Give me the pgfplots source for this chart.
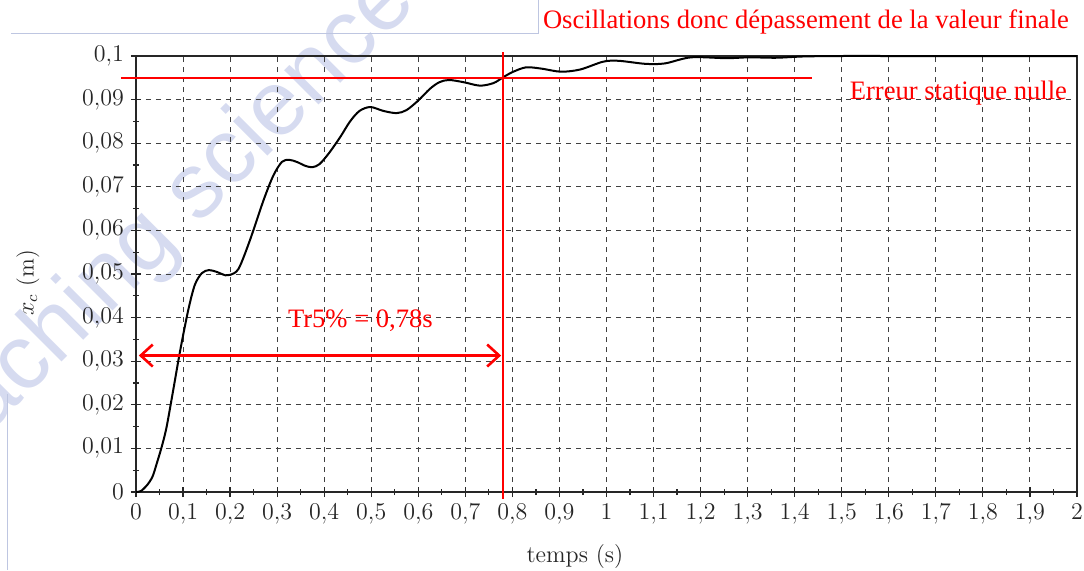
\documentclass[border=0pt]{standalone}
\usepackage{fontspec}
\usepackage{pgfplots}
\pgfplotsset{compat=1.18}
\usetikzlibrary{arrows.meta}
\newfontfamily\timesfont{Liberation Serif}
\newfontfamily\wmfont{Liberation Sans}
\definecolor{wm}{RGB}{214,219,240}
\definecolor{framec}{RGB}{190,198,225}
\begin{document}
\begin{tikzpicture}
\useasboundingbox (0,0) rectangle (542pt,285pt);
% watermark
\node[rotate=45, text=wm, font=\wmfont\fontsize{46}{50}\selectfont] at (80pt,170pt) {teaching science};
% frame artefacts
\draw[framec, line width=0.5pt] (5.5pt,268.5pt) -- (269pt,268.5pt) -- (269pt,285pt);
\draw[framec, line width=0.5pt] (3.5pt,88pt) -- (3.5pt,0pt);
\begin{axis}[
  at={(68pt,39pt)}, anchor=south west,
  width=470.5pt, height=218pt, scale only axis,
  xmin=0, xmax=2, ymin=0, ymax=0.1,
  clip=false,
  axis line style={line width=0.8pt, black!85},
  xtick={0,0.1,0.2,0.3,0.4,0.5,0.6,0.7,0.8,0.9,1,1.1,1.2,1.3,1.4,1.5,1.6,1.7,1.8,1.9,2},
  ytick={0,0.01,0.02,0.03,0.04,0.05,0.06,0.07,0.08,0.09,0.1},
  minor x tick num=1, minor y tick num=1,
  xtick pos=bottom, ytick pos=left,
  tick align=center,
  major tick length=5pt, minor tick length=3pt,
  tick style={black!85, line width=0.6pt},
  grid=major,
  major grid style={black!75, line width=0.5pt, dash pattern=on 2.5pt off 2.5pt},
  scaled y ticks=false, scaled x ticks=false,
  xticklabel style={/pgf/number format/.cd, fixed, precision=1, use comma},
  yticklabel style={/pgf/number format/.cd, fixed, precision=2, use comma},
  tick label style={font=\fontsize{11.5}{13}\selectfont, black!85},
  xlabel={temps (s)},
  ylabel={$x_c$ (m)},
  xlabel style={at={(axis description cs:0.4665,-0.149)}, anchor=center, font=\fontsize{12}{14}\selectfont, black!85},
  ylabel style={at={(axis description cs:-0.115,0.48)}, anchor=center, rotate=0, font=\fontsize{11.5}{14}\selectfont, black!85},
]
\addplot[black, line width=1pt, smooth, tension=0.5] coordinates {
(0,0) (0.01,0.0002) (0.023,0.0015) (0.035,0.0035) (0.044,0.0065) (0.055,0.0105)
(0.065,0.0149) (0.079,0.0233) (0.094,0.0325) (0.111,0.0417) (0.125,0.0475)
(0.14,0.0502) (0.155,0.0509) (0.171,0.0505) (0.19,0.0497) (0.2,0.0498)
(0.218,0.0512) (0.242,0.0577) (0.271,0.0669) (0.292,0.0726) (0.31,0.0757)
(0.325,0.0762) (0.342,0.0757) (0.36,0.0748) (0.375,0.0745) (0.39,0.0752)
(0.41,0.0777) (0.434,0.0814) (0.455,0.0850) (0.475,0.0874) (0.498,0.0883)
(0.526,0.0874) (0.554,0.0869) (0.575,0.0876) (0.6,0.0898) (0.625,0.0925)
(0.645,0.0940) (0.665,0.0945) (0.696,0.0940) (0.731,0.0932) (0.76,0.0938)
(0.78,0.0951) (0.8,0.0963) (0.829,0.0974) (0.862,0.0971) (0.903,0.0964)
(0.944,0.0969) (0.993,0.0987) (1.026,0.0989) (1.083,0.0982) (1.124,0.0983)
(1.18,0.0997) (1.255,0.0995) (1.304,0.0997) (1.36,0.0996) (1.42,0.0999)
(1.5,0.1) (1.6,0.1) (1.7,0.1) (1.8,0.1) (1.9,0.1) (2,0.1)
};
% annotations
\draw[red, line width=1.3pt] (axis cs:-0.032,0.095) -- (axis cs:1.436,0.095);
\draw[red, line width=1.3pt] (axis cs:0.78,0.1009) -- (axis cs:0.78,-0.0016);
\draw[red, line width=1.3pt, {Straight Barb[length=6pt,width=11pt]}-{Straight Barb[length=6pt,width=11pt]}] (axis cs:0.006,0.0313) -- (axis cs:0.776,0.0313);
\node[red, font=\timesfont\fontsize{13.3}{15}\selectfont] at (axis cs:0.477,0.0394) {Tr5\% = 0,78s};
\end{axis}
\node[red, anchor=east, font=\timesfont\fontsize{13.3}{15}\selectfont] at (538pt,274pt) {Oscillations donc dépassement de la valeur finale};
\node[red, anchor=east, font=\timesfont\fontsize{13.3}{15}\selectfont] at (537pt,238.5pt) {Erreur statique nulle};
\end{tikzpicture}
\end{document}
